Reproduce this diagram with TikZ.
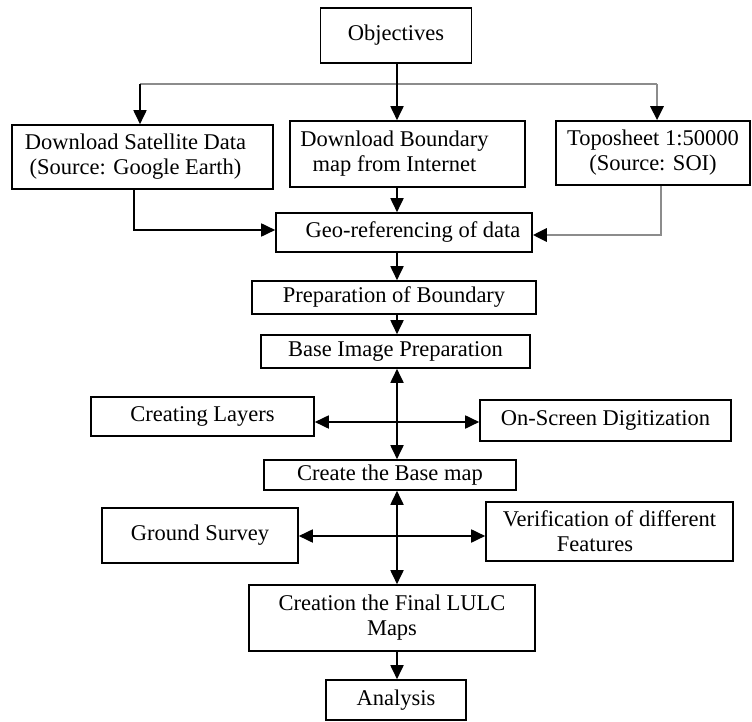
\documentclass[tikz,border=0pt]{standalone}
\usepackage{fontspec}
\setmainfont{Liberation Serif}
\usetikzlibrary{arrows.meta}
\begin{document}
\begin{tikzpicture}[x=1pt,y=-1pt,
  txt/.style={font=\fontsize{22.5}{25}\selectfont,align=center,inner sep=0pt},
  box/.style={draw,line width=1.6pt,inner sep=0pt,txt},
  tip/.tip={Triangle[length=14pt,width=13pt,color=black]},
  blk/.style={line width=1.8pt},
  conn/.style={blk,-tip},
  dconn/.style={blk,tip-tip},
  gry/.style={draw=black!45,line width=2.8pt},
  grayconn/.style={gry,-tip}]
\useasboundingbox (0,0) rectangle (752,722);

% boxes
\node[box,minimum width=151pt,minimum height=55pt] (obj) at (396,35.5) {Objectives};
\node[box,minimum width=261pt,minimum height=64pt,
  label={[txt,xshift=-7pt]center:{Download Satellite Data\\(Source: Google Earth)}}] (sat) at (142.5,157) {};
\node[box,minimum width=235pt,minimum height=66pt,
  label={[txt,xshift=-13pt]center:{Download Boundary\\map from Internet}}] (bnd) at (407.5,154) {};
\node[box,minimum width=194pt,minimum height=64pt] (topo) at (653,153) {Toposheet 1:50000\\(Source: SOI)};
\node[box,minimum width=256pt,minimum height=39pt,
  label={[txt,xshift=9pt]center:{Geo-referencing of data}}] (geo) at (404,232.5) {};
\node[box,minimum width=284pt,minimum height=33pt] (prep) at (394,297.5) {Preparation of Boundary};
\node[box,minimum width=269pt,minimum height=33pt] (base) at (395.5,351.5) {Base Image Preparation};
\node[box,minimum width=223pt,minimum height=39pt] (layers) at (202.5,416.5) {Creating Layers};
\node[box,minimum width=251pt,minimum height=41pt] (onscreen) at (605.5,420.5) {On-Screen Digitization};
\node[box,minimum width=252pt,minimum height=30pt] (create) at (390,475) {Create the Base map};
\node[box,minimum width=196pt,minimum height=55pt] (ground) at (200,535.5) {Ground Survey};
\node[box,minimum width=247pt,minimum height=59pt] (verif) at (609.5,531.5) {Verification of different\\\hspace*{-29pt}Features};
\node[box,minimum width=286pt,minimum height=66pt] (final) at (392,618) {Creation the Final LULC\\Maps};
\node[box,minimum width=140pt,minimum height=40pt] (ana) at (396,700) {Analysis};

% helper coordinates
\coordinate (spine) at (397,0);
\coordinate (tl) at (140,84);
\coordinate (tr) at (657,84);
\coordinate (sl) at (134,230);
\coordinate (sr) at (661,235);
\coordinate (hl) at (0,422);
\coordinate (hg) at (0,536);

% connectors
\draw[gry] (tl) -- (tr);
\draw[blk] (spine |- obj.south) -- (spine |- tl);
\draw[conn] (tl) -- (tl |- sat.north);
\draw[conn] (spine |- tl) -- (spine |- bnd.north);
\draw[grayconn] (tr) -- (tr |- topo.north);
\draw[conn] (sl |- sat.south) -- (sl) -- (geo.west |- sl);
\draw[grayconn] (sr |- topo.south) -- (sr) -- (geo.east |- sr);
\draw[conn] (spine |- bnd.south) -- (spine |- geo.north);
\draw[conn] (spine |- geo.south) -- (spine |- prep.north);
\draw[conn] (spine |- prep.south) -- (spine |- base.north);
\draw[dconn] (spine |- base.south) -- (spine |- create.north);
\draw[dconn] (layers.east |- hl) -- (onscreen.west |- hl);
\draw[dconn] (spine |- create.south) -- (spine |- final.north);
\draw[dconn] (ground.east |- hg) -- (verif.west |- hg);
\draw[conn] (spine |- final.south) -- (spine |- ana.north);
\end{tikzpicture}
\end{document}
